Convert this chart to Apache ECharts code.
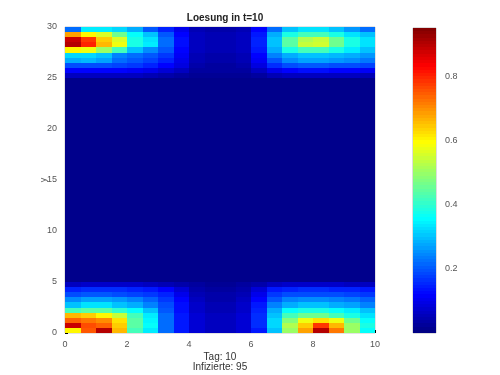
<!DOCTYPE html>
<html>
<head>
<meta charset="utf-8">
<script src="https://cdn.jsdelivr.net/npm/echarts@6/dist/echarts.min.js"></script>
<style>html,body{margin:0;padding:0;background:#fff;}#c{width:500px;height:375px;}</style>
</head>
<body>
<div id="c"></div>
<script>
// x: 0..10 in 20 columns of 0.5; y: 0..30 in 60 rows of 0.5
var xTicks = [0, 2, 4, 6, 8, 10];
var yTicks = [0, 5, 10, 15, 20, 25, 30];
var cbTicks = [0.2, 0.4, 0.6, 0.8];
var nCols = 20, nRows = 60;
var background = 0.012;
// bottom band, row 0 = y 0..0.5 upward
var bottomRows = [
  [0.60, 0.75, 0.90, 0.66, 0.42, 0.34, 0.22, 0.14, 0.08, 0.06, 0.06, 0.08, 0.14, 0.30, 0.50, 0.68, 0.90, 0.72, 0.50, 0.36],
  [0.88, 0.76, 0.74, 0.64, 0.44, 0.36, 0.22, 0.14, 0.08, 0.06, 0.06, 0.08, 0.16, 0.32, 0.52, 0.64, 0.78, 0.66, 0.50, 0.38],
  [0.74, 0.72, 0.70, 0.62, 0.44, 0.35, 0.22, 0.14, 0.08, 0.06, 0.06, 0.08, 0.16, 0.32, 0.48, 0.58, 0.62, 0.58, 0.46, 0.36],
  [0.66, 0.64, 0.60, 0.54, 0.42, 0.34, 0.22, 0.14, 0.08, 0.06, 0.06, 0.08, 0.16, 0.30, 0.42, 0.46, 0.46, 0.42, 0.38, 0.33],
  [0.42, 0.44, 0.44, 0.40, 0.36, 0.30, 0.20, 0.13, 0.07, 0.05, 0.05, 0.07, 0.15, 0.28, 0.36, 0.38, 0.38, 0.36, 0.34, 0.30],
  [0.30, 0.33, 0.33, 0.30, 0.28, 0.24, 0.19, 0.13, 0.07, 0.05, 0.05, 0.07, 0.14, 0.24, 0.28, 0.30, 0.30, 0.28, 0.27, 0.24],
  [0.25, 0.27, 0.27, 0.26, 0.24, 0.21, 0.17, 0.12, 0.06, 0.04, 0.04, 0.06, 0.12, 0.20, 0.24, 0.25, 0.25, 0.24, 0.23, 0.21],
  [0.19, 0.20, 0.20, 0.19, 0.18, 0.17, 0.15, 0.10, 0.05, 0.04, 0.04, 0.05, 0.10, 0.17, 0.19, 0.19, 0.19, 0.19, 0.18, 0.17],
  [0.15, 0.16, 0.16, 0.16, 0.15, 0.14, 0.12, 0.08, 0.04, 0.03, 0.03, 0.04, 0.08, 0.14, 0.15, 0.16, 0.16, 0.15, 0.15, 0.14],
  [0.06, 0.07, 0.07, 0.07, 0.07, 0.06, 0.05, 0.04, 0.03, 0.02, 0.02, 0.03, 0.04, 0.06, 0.07, 0.07, 0.07, 0.07, 0.06, 0.06]
];
// top band, first entry = row 50 (y 25..25.5), last = row 59 (y 29.5..30)
var topRows = [
  [0.06, 0.06, 0.06, 0.06, 0.06, 0.05, 0.04, 0.03, 0.02, 0.02, 0.02, 0.02, 0.03, 0.05, 0.06, 0.06, 0.06, 0.06, 0.06, 0.05],
  [0.12, 0.12, 0.12, 0.12, 0.11, 0.10, 0.08, 0.06, 0.03, 0.03, 0.03, 0.03, 0.06, 0.10, 0.12, 0.13, 0.13, 0.12, 0.12, 0.11],
  [0.19, 0.19, 0.19, 0.18, 0.17, 0.15, 0.12, 0.09, 0.04, 0.03, 0.03, 0.04, 0.09, 0.16, 0.19, 0.20, 0.20, 0.19, 0.19, 0.18],
  [0.28, 0.29, 0.27, 0.22, 0.20, 0.18, 0.15, 0.10, 0.05, 0.04, 0.04, 0.05, 0.11, 0.20, 0.25, 0.27, 0.27, 0.26, 0.25, 0.23],
  [0.32, 0.32, 0.30, 0.24, 0.22, 0.20, 0.17, 0.11, 0.05, 0.04, 0.04, 0.05, 0.12, 0.24, 0.28, 0.30, 0.30, 0.29, 0.28, 0.26],
  [0.60, 0.58, 0.50, 0.42, 0.30, 0.25, 0.20, 0.12, 0.06, 0.05, 0.05, 0.06, 0.14, 0.28, 0.38, 0.42, 0.42, 0.38, 0.34, 0.30],
  [0.90, 0.80, 0.66, 0.58, 0.38, 0.34, 0.22, 0.13, 0.06, 0.05, 0.05, 0.06, 0.15, 0.30, 0.44, 0.54, 0.55, 0.46, 0.38, 0.33],
  [0.88, 0.78, 0.64, 0.56, 0.38, 0.33, 0.22, 0.13, 0.06, 0.05, 0.05, 0.06, 0.15, 0.30, 0.44, 0.52, 0.54, 0.46, 0.38, 0.33],
  [0.68, 0.60, 0.56, 0.46, 0.36, 0.30, 0.20, 0.12, 0.06, 0.05, 0.05, 0.06, 0.14, 0.28, 0.38, 0.42, 0.42, 0.38, 0.33, 0.30],
  [0.22, 0.34, 0.34, 0.32, 0.28, 0.20, 0.15, 0.10, 0.05, 0.04, 0.04, 0.05, 0.12, 0.22, 0.30, 0.33, 0.33, 0.30, 0.26, 0.22]
];
var xMax = 10, yMax = 30, cMax = 0.95;
var dx = xMax / nCols, dy = yMax / nRows;

var cells = [];
for (var r = 0; r < nRows; r++) {
  for (var c = 0; c < nCols; c++) {
    var v = background;
    if (r < bottomRows.length) v = bottomRows[r][c];
    else if (r >= nRows - topRows.length) v = topRows[r - (nRows - topRows.length)][c];
    cells.push([c * dx, r * dy, v]);
  }
}
// colorbar levels
var cbSteps = 95, cbCells = [];
for (var k = 0; k < cbSteps; k++) {
  cbCells.push([0, k * cMax / cbSteps, (k + 0.5) * cMax / cbSteps]);
}

var jet = ['#00007F', '#0000FF', '#007FFF', '#00FFFF', '#7FFF7F', '#FFFF00', '#FF7F00', '#FF0000', '#7F0000'];

function rectFrom(api, x0, y0, x1, y1) {
  var p0 = api.coord([x0, y0]);
  var p1 = api.coord([x1, y1]);
  var L = Math.round(p0[0]), R = Math.round(p1[0]);
  var B = Math.round(p0[1]), T = Math.round(p1[1]);
  return {x: L, y: T, width: R - L, height: B - T};
}

var chart = echarts.init(document.getElementById('c'), null, {renderer: 'canvas'});
var font = 'Liberation Sans, Arial, sans-serif';
chart.setOption({
  animation: false,
  backgroundColor: '#fff',
  title: {
    text: 'Loesung in t=10', left: 220, top: 8, textAlign: 'center',
    textStyle: {fontSize: 10, fontWeight: 'bold', color: '#222', fontFamily: font}
  },
  graphic: [
    {type: 'text', style: {text: 'Tag: 10', x: 220, y: 352, textAlign: 'center', fill: '#333', font: '10px ' + font}},
    {type: 'text', style: {text: 'Infizierte: 95', x: 220, y: 362, textAlign: 'center', fill: '#333', font: '10px ' + font}}
  ],
  visualMap: {
    show: false, type: 'continuous', min: 0, max: cMax, dimension: 2,
    seriesIndex: [0, 1], inRange: {color: jet}
  },
  grid: [
    {left: 65, top: 27, width: 310, height: 306, show: true, borderColor: '#c8c8c8', borderWidth: 1, backgroundColor: 'transparent'},
    {left: 413, top: 28, width: 23, height: 305, show: true, borderColor: '#bbb', borderWidth: 1, backgroundColor: 'transparent'}
  ],
  xAxis: [
    {type: 'value', gridIndex: 0, min: 0, max: xMax, interval: 2,
      axisLine: {show: false}, splitLine: {show: false},
      axisTick: {inside: true, length: 3, lineStyle: {color: '#000'}},
      axisLabel: {fontSize: 9, color: '#555', margin: 7, fontFamily: font}},
    {type: 'value', gridIndex: 1, min: 0, max: 1, show: false}
  ],
  yAxis: [
    {type: 'value', gridIndex: 0, min: 0, max: yMax, interval: 5,
      name: 'y', nameLocation: 'middle', nameGap: 17, nameRotate: 90, nameMoveOverlap: false,
      nameTextStyle: {fontSize: 9, color: '#555', fontFamily: font},
      axisLine: {show: false}, splitLine: {show: false},
      axisTick: {inside: true, length: 3, lineStyle: {color: '#000'}},
      axisLabel: {fontSize: 9, color: '#555', margin: 8, fontFamily: font}},
    {type: 'value', gridIndex: 1, min: 0, max: cMax, interval: 0.2, position: 'right',
      axisLine: {show: false}, splitLine: {show: false},
      axisTick: {show: false},
      axisLabel: {fontSize: 9, color: '#555', margin: 9, fontFamily: font,
        formatter: function (v) { return cbTicks.indexOf(Math.round(v * 10) / 10) >= 0 ? v.toFixed(1) : ''; }}}
  ],
  series: [
    {
      type: 'custom', xAxisIndex: 0, yAxisIndex: 0, data: cells, clip: true,
      encode: {x: 0, y: 1},
      renderItem: function (params, api) {
        return {type: 'rect',
          shape: rectFrom(api, api.value(0), api.value(1), api.value(0) + dx, api.value(1) + dy),
          style: {fill: api.visual('color')}};
      }
    },
    {
      type: 'custom', xAxisIndex: 1, yAxisIndex: 1, data: cbCells, clip: true,
      encode: {x: 0, y: 1},
      renderItem: function (params, api) {
        return {type: 'rect',
          shape: rectFrom(api, 0, api.value(1), 1, api.value(1) + cMax / cbSteps),
          style: {fill: api.visual('color')}};
      }
    }
  ]
});
</script>
</body>
</html>
